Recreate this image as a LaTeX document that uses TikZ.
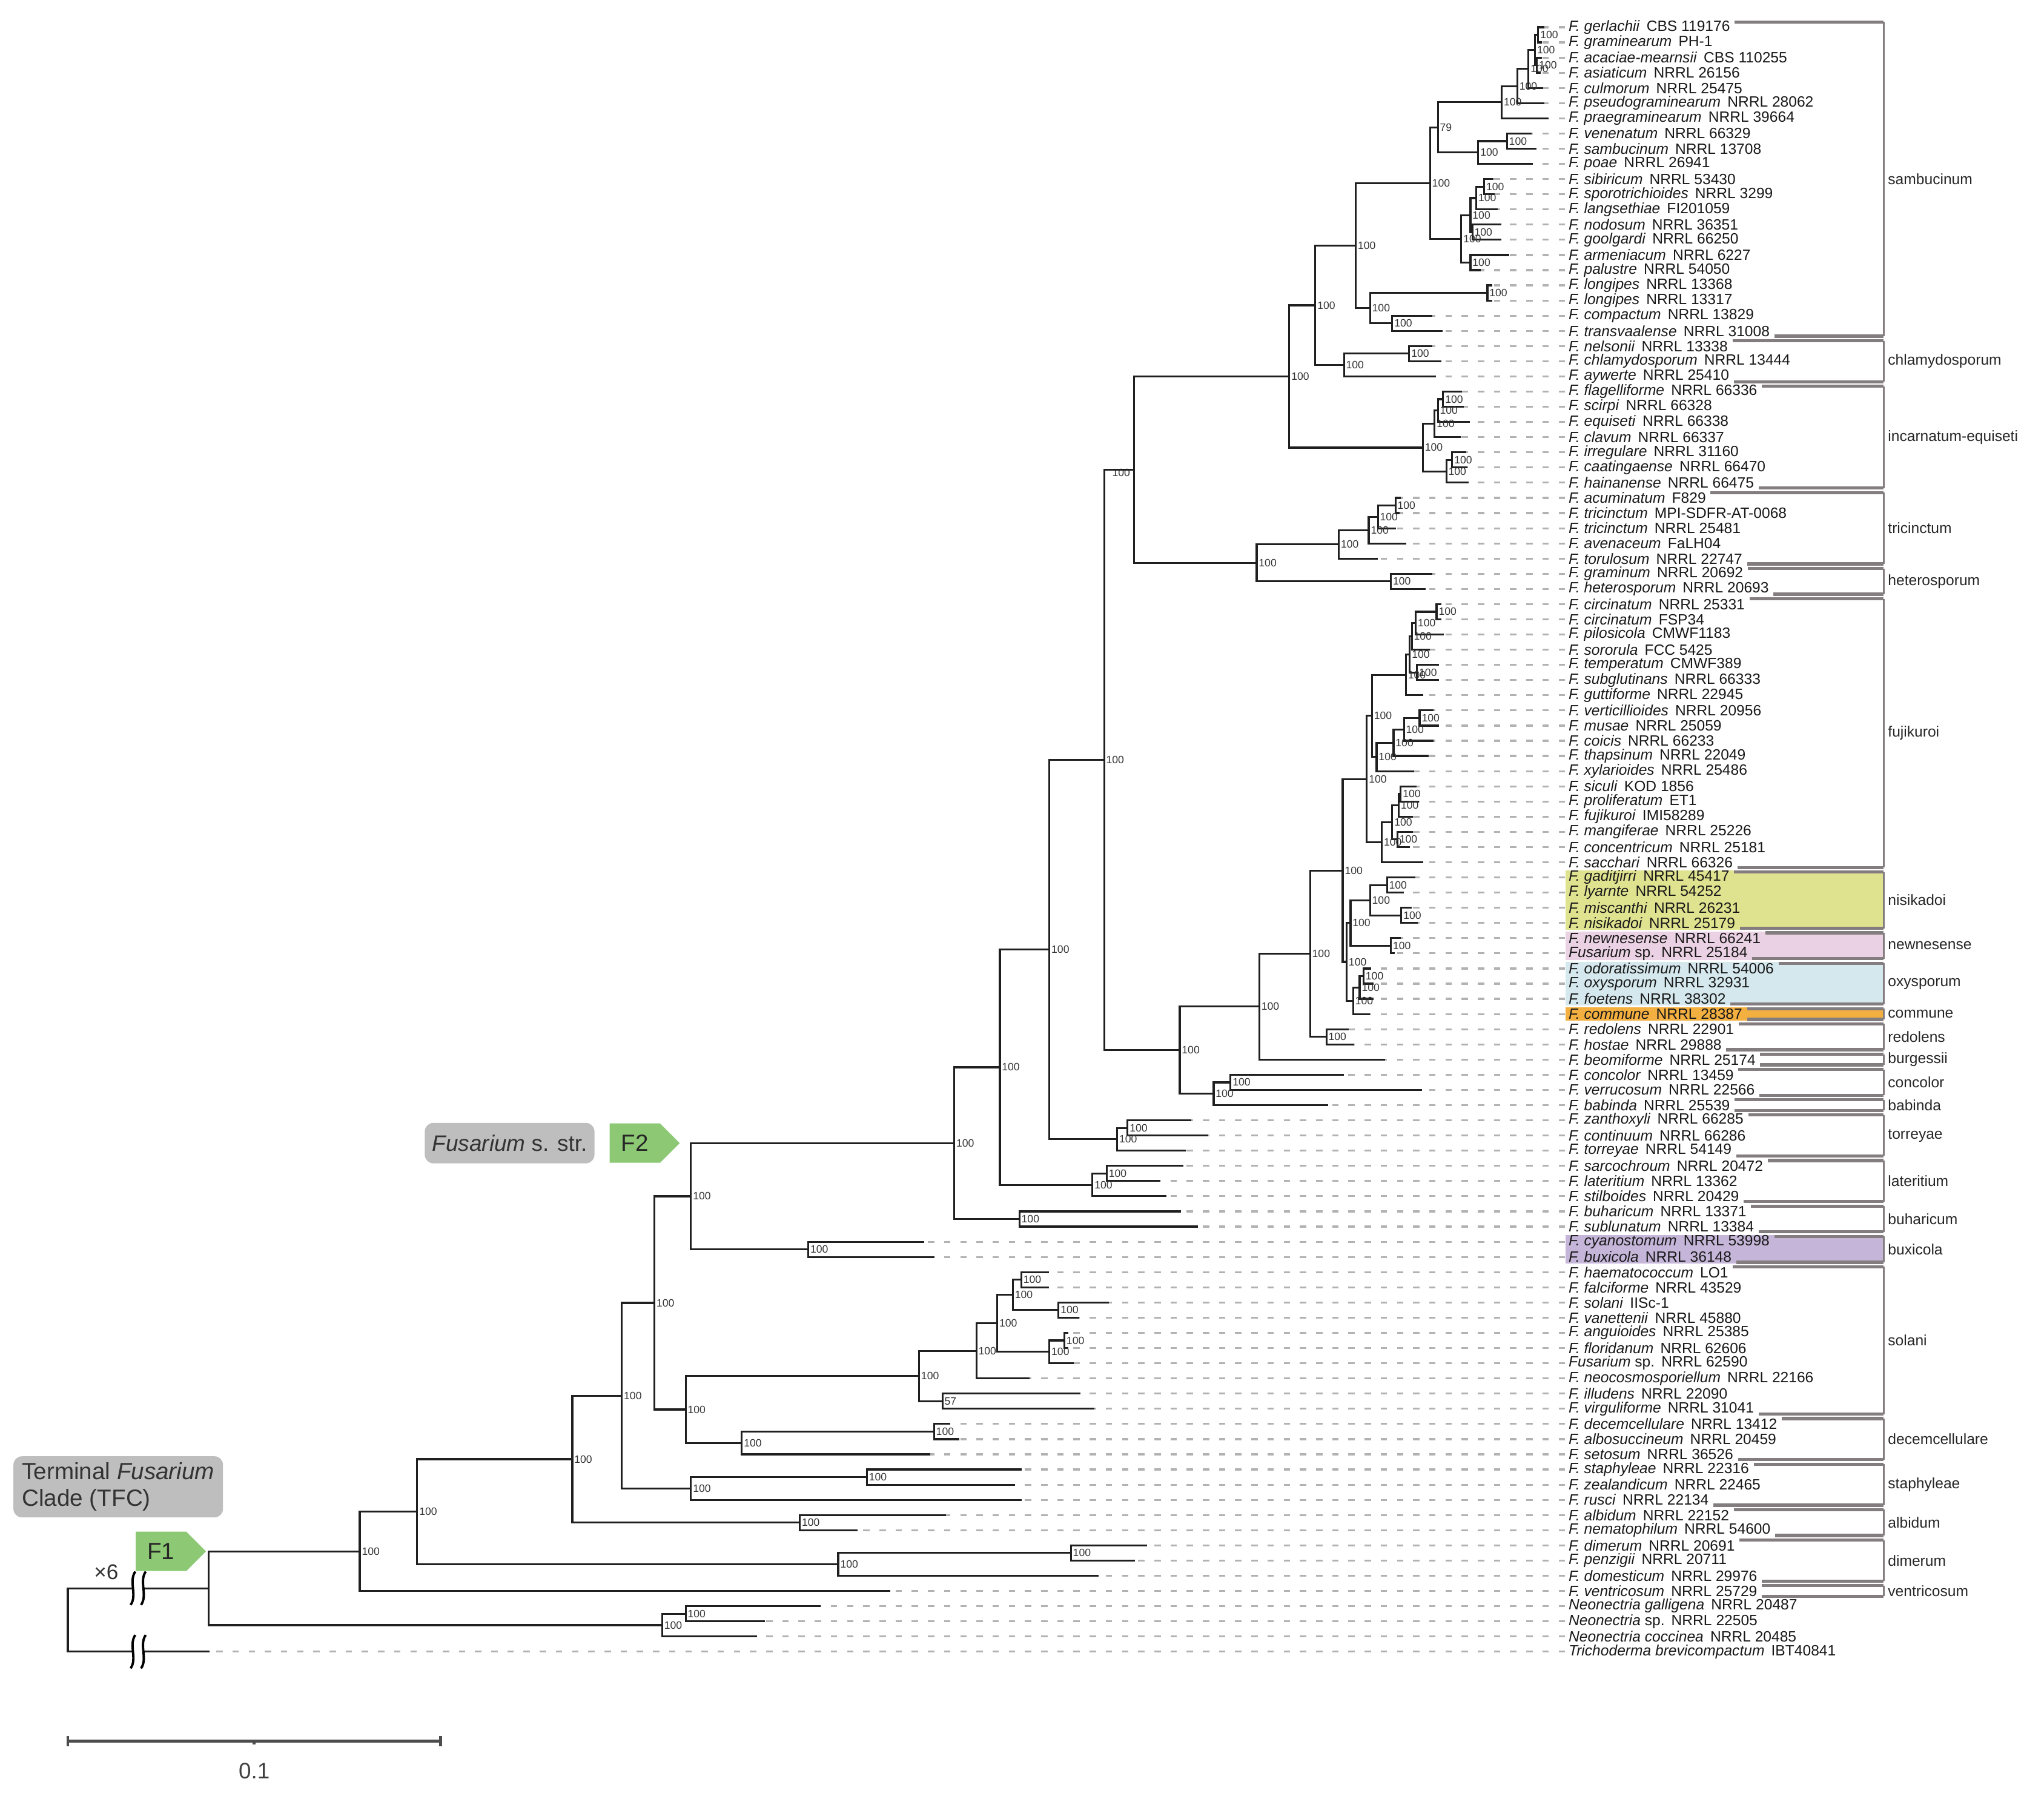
\documentclass[tikz,border=0pt]{standalone}
\usepackage{fontspec}
\setmainfont{Liberation Sans}
\usetikzlibrary{shapes,positioning}

\definecolor{bargray}{RGB}{132,125,127}
\definecolor{boxgray}{RGB}{190,190,190}
\definecolor{flaggreen}{RGB}{141,201,116}
\definecolor{hlyellow}{RGB}{223,226,142}
\definecolor{hlpink}{RGB}{234,209,227}
\definecolor{hlblue}{RGB}{213,232,238}
\definecolor{hlorange}{RGB}{243,175,64}
\definecolor{hlpurple}{RGB}{197,182,217}

% one split: [label opts] name, x, upper child, lower child, support
\newcommand\clade[6][]{%
  \path (#4) -- (#5) coordinate[pos=.5] (#2m);
  \coordinate (#2) at (#3,0 |- #2m);
  \draw[branch] (#4) -| (#2) |- (#5);
  \node[boot,#1] (#2b) at (#2) {#6};
}

% bracket round a group: first row, last row, group name
\newcommand\cladebar[3]{%
  \coordinate (cbT) at (1445,{#1-0.35});
  \coordinate (cbB) at (1445,{#2+0.35});
  \coordinate (cbA) at ([xshift=2pt]L#1.east);
  \coordinate (cbZ) at ([xshift=2pt]L#2.east);
  \draw[cvert] (cbT) -- (cbB);
  \draw[cbar] (cbA |- cbT) -- (cbT) (cbZ |- cbB) -- (cbB);
  \node[cname] (g#1) at (1448,{(#1+#2)/2}) {#3};
}

% broken branch
\newcommand\brk[1]{%
  \begin{scope}[shift={(102,0 |- #1)}]
    \fill[white] (-0.5,-0.5) rectangle (8,0.5);
    \draw[brkline] (1.8,-1.1) .. controls (-3.5,-0.45) and (3.5,0.45) .. (-1.8,1.1);
    \draw[brkline] (9.8,-1.1) .. controls (4.5,-0.45) and (11.5,0.45) .. (6.2,1.1);
  \end{scope}}

\begin{document}
\begin{tikzpicture}[x=0.021524cm, y=-0.2507cm,
  branch/.style={line width=0.9pt, draw=black!88, line cap=rect},
  lead/.style={draw=black!30, line width=0.9pt, dash pattern=on 3pt off 4.6pt},
  boot/.style={anchor=west, inner sep=0pt, xshift=0.8pt, text=black!80, font=\fontsize{5}{5}\selectfont},
  taxon/.style={anchor=west, inner sep=0pt, text=black!90, font=\fontsize{7}{7}\selectfont},
  cbar/.style={draw=bargray, line width=1.5pt},
  cvert/.style={draw=bargray, line width=1pt},
  cname/.style={anchor=west, inner sep=0pt, text=black!85, font=\fontsize{7}{7}\selectfont},
  tag/.style={signal, signal to=east, fill=flaggreen, minimum width=33pt, minimum height=18.5pt, inner sep=0pt, text=black!85, font=\fontsize{11}{11}\selectfont},
  gbox/.style={fill=boxgray, rounded corners=4pt, text=black!80},
  brkline/.style={line width=1.1pt, draw=black},
  sbar/.style={draw=black!70, line width=1.3pt}]

\useasboundingbox (0,-0.795) rectangle (1568,117.87);

% colored groups
\fill[hlyellow] (1201,{57-0.45}) rectangle (1445,{60+0.45});
\fill[hlpink] (1201,{61-0.45}) rectangle (1445,{62+0.45});
\fill[hlblue] (1201,{63-0.45}) rectangle (1445,{65+0.45});
\fill[hlorange] (1201,{66-0.45}) rectangle (1445,{66+0.45});
\fill[hlpurple] (1201,{81-0.45}) rectangle (1445,{82+0.45});

% taxa
\foreach \i/\nm/\st in {1/F. gerlachii/CBS 119176, 2/F. graminearum/PH-1,
  3/F. acaciae-mearnsii/CBS 110255, 4/F. asiaticum/NRRL 26156, 5/F. culmorum/NRRL 25475,
  6/F. pseudograminearum/NRRL 28062, 7/F. praegraminearum/NRRL 39664, 8/F. venenatum/NRRL 66329,
  9/F. sambucinum/NRRL 13708, 10/F. poae/NRRL 26941, 11/F. sibiricum/NRRL 53430,
  12/F. sporotrichioides/NRRL 3299, 13/F. langsethiae/FI201059, 14/F. nodosum/NRRL 36351,
  15/F. goolgardi/NRRL 66250, 16/F. armeniacum/NRRL 6227, 17/F. palustre/NRRL 54050,
  18/F. longipes/NRRL 13368, 19/F. longipes/NRRL 13317, 20/F. compactum/NRRL 13829,
  21/F. transvaalense/NRRL 31008, 22/F. nelsonii/NRRL 13338, 23/F. chlamydosporum/NRRL 13444,
  24/F. aywerte/NRRL 25410, 25/F. flagelliforme/NRRL 66336, 26/F. scirpi/NRRL 66328,
  27/F. equiseti/NRRL 66338, 28/F. clavum/NRRL 66337, 29/F. irregulare/NRRL 31160,
  30/F. caatingaense/NRRL 66470, 31/F. hainanense/NRRL 66475, 32/F. acuminatum/F829,
  33/F. tricinctum/MPI-SDFR-AT-0068, 34/F. tricinctum/NRRL 25481, 35/F. avenaceum/FaLH04,
  36/F. torulosum/NRRL 22747, 37/F. graminum/NRRL 20692, 38/F. heterosporum/NRRL 20693,
  39/F. circinatum/NRRL 25331, 40/F. circinatum/FSP34, 41/F. pilosicola/CMWF1183,
  42/F. sororula/FCC 5425, 43/F. temperatum/CMWF389, 44/F. subglutinans/NRRL 66333,
  45/F. guttiforme/NRRL 22945, 46/F. verticillioides/NRRL 20956, 47/F. musae/NRRL 25059,
  48/F. coicis/NRRL 66233, 49/F. thapsinum/NRRL 22049, 50/F. xylarioides/NRRL 25486,
  51/F. siculi/KOD 1856, 52/F. proliferatum/ET1, 53/F. fujikuroi/IMI58289,
  54/F. mangiferae/NRRL 25226, 55/F. concentricum/NRRL 25181, 56/F. sacchari/NRRL 66326,
  57/F. gaditjirri/NRRL 45417, 58/F. lyarnte/NRRL 54252, 59/F. miscanthi/NRRL 26231,
  60/F. nisikadoi/NRRL 25179, 61/F. newnesense/NRRL 66241, 62/Fusarium \upshape sp./NRRL 25184,
  63/F. odoratissimum/NRRL 54006, 64/F. oxysporum/NRRL 32931, 65/F. foetens/NRRL 38302,
  66/F. commune/NRRL 28387, 67/F. redolens/NRRL 22901, 68/F. hostae/NRRL 29888,
  69/F. beomiforme/NRRL 25174, 70/F. concolor/NRRL 13459, 71/F. verrucosum/NRRL 22566,
  72/F. babinda/NRRL 25539, 73/F. zanthoxyli/NRRL 66285, 74/F. continuum/NRRL 66286,
  75/F. torreyae/NRRL 54149, 76/F. sarcochroum/NRRL 20472, 77/F. lateritium/NRRL 13362,
  78/F. stilboides/NRRL 20429, 79/F. buharicum/NRRL 13371, 80/F. sublunatum/NRRL 13384,
  81/F. cyanostomum/NRRL 53998, 82/F. buxicola/NRRL 36148, 83/F. haematococcum/LO1,
  84/F. falciforme/NRRL 43529, 85/F. solani/IISc-1, 86/F. vanettenii/NRRL 45880,
  87/F. anguioides/NRRL 25385, 88/F. floridanum/NRRL 62606, 89/Fusarium \upshape sp./NRRL 62590,
  90/F. neocosmosporiellum/NRRL 22166, 91/F. illudens/NRRL 22090, 92/F. virguliforme/NRRL 31041,
  93/F. decemcellulare/NRRL 13412, 94/F. albosuccineum/NRRL 20459, 95/F. setosum/NRRL 36526,
  96/F. staphyleae/NRRL 22316, 97/F. zealandicum/NRRL 22465, 98/F. rusci/NRRL 22134,
  99/F. albidum/NRRL 22152, 100/F. nematophilum/NRRL 54600, 101/F. dimerum/NRRL 20691,
  102/F. penzigii/NRRL 20711, 103/F. domesticum/NRRL 29976, 104/F. ventricosum/NRRL 25729,
  105/Neonectria galligena/NRRL 20487, 106/Neonectria \upshape sp./NRRL 22505,
  107/Neonectria coccinea/NRRL 20485, 108/Trichoderma brevicompactum/IBT40841}
  \node[taxon] (L\i) at (1203,\i) {\textit{\nm}\hspace{0.45em}\st};

% branch tips
\foreach \i/\x in {1/1184, 2/1182, 3/1182, 4/1181, 5/1183, 6/1184, 7/1187, 8/1174, 9/1178,
  10/1175, 11/1145, 12/1146, 13/1148, 14/1151, 15/1151, 16/1157, 17/1135, 18/1144, 19/1144,
  20/1098, 21/1106, 22/1098, 23/1105, 24/1101, 25/1121, 26/1122, 27/1127, 28/1120, 29/1124,
  30/1125, 31/1126, 32/1074, 33/1073, 34/1070, 35/1078, 36/1056, 37/1098, 38/1093, 39/1105,
  40/1105, 41/1107, 42/1096, 43/1103, 44/1103, 45/1091, 46/1099, 47/1103, 48/1099, 49/1095,
  50/1084, 51/1086, 52/1088, 53/1083, 54/1083, 55/1081, 56/1091, 57/1085, 58/1076, 59/1082,
  60/1087, 61/1074, 62/1069, 63/1051, 64/1053, 65/1053, 66/1050, 67/1034, 68/1038, 69/1062,
  70/1030, 71/1090, 72/1018, 73/913, 74/926, 75/909, 76/907, 77/889, 78/894, 79/905,
  80/918, 81/708, 82/716, 83/804, 84/804, 85/850, 86/827, 87/819, 88/819, 89/823,
  90/789, 91/828, 92/839, 93/728, 94/735, 95/713, 96/783, 97/778, 98/783, 99/725,
  100/657, 101/879, 102/870, 103/842, 104/682, 105/629, 106/586, 107/580, 108/160}
  \coordinate (t\i) at (\x,\i);

% leaders
\foreach \i in {1,...,108}
  \draw[lead] ([xshift=-1.5pt]L\i.west) -- (t\i);

% sambucinum, chlamydosporum
\clade{gerl}{1180}{t1}{t2}{100}
\clade{acac}{1179}{t3}{t4}{100}
\clade{graA}{1177.5}{gerl}{acac}{100}
\clade{graB}{1172.5}{graA}{t5}{100}
\clade{graC}{1164}{graB}{t6}{100}
\clade{graD}{1152}{graC}{t7}{100}
\clade{vene}{1156}{t8}{t9}{100}
\clade{poae}{1134}{vene}{t10}{100}
\clade{samA}{1103}{graD}{poae}{79}
\clade{sibi}{1138.5}{t11}{t12}{100}
\clade{lang}{1132.5}{sibi}{t13}{100}
\clade{nodo}{1129.5}{t14}{t15}{100}
\clade{sporo}{1128}{lang}{nodo}{100}
\clade{arme}{1128}{t16}{t17}{100}
\clade{samB}{1121}{sporo}{arme}{100}
\clade{samC}{1097}{samA}{samB}{100}
\clade{long}{1141}{t18}{t19}{100}
\clade{comp}{1068}{t20}{t21}{100}
\clade{samD}{1051}{long}{comp}{100}
\clade{samb}{1040}{samC}{samD}{100}
\clade{nels}{1081}{t22}{t23}{100}
\clade{chla}{1031}{nels}{t24}{100}
\clade{samch}{1009}{samb}{chla}{100}
% incarnatum-equiseti
\clade{flge}{1107}{t25}{t26}{100}
\clade{equi}{1103}{flge}{t27}{100}
\clade{clav}{1100.5}{equi}{t28}{100}
\clade{irre}{1114}{t29}{t30}{100}
\clade{hain}{1109.5}{irre}{t31}{100}
\clade{ince}{1091.5}{clav}{hain}{100}
\clade{sci}{989}{samch}{ince}{100}
% tricinctum, heterosporum
\clade{acum}{1070.5}{t32}{t33}{100}
\clade{tric}{1057}{acum}{t34}{100}
\clade{aven}{1050}{tric}{t35}{100}
\clade{tori}{1027}{aven}{t36}{100}
\clade{hete}{1067}{t37}{t38}{100}
\clade{trhe}{964}{tori}{hete}{100}
\clade[anchor=east,xshift=-2.5pt,yshift=-1.5pt]{gpA}{870}{sci}{trhe}{100}
% fujikuroi
\clade{circ}{1102}{t39}{t40}{100}
\clade{pilo}{1086}{circ}{t41}{100}
\clade{soro}{1083}{pilo}{t42}{100}
\clade{temp}{1087}{t43}{t44}{100}
\clade{subg}{1081.5}{soro}{temp}{100}
\clade{amer}{1078.5}{subg}{t45}{100}
\clade{vert}{1089}{t46}{t47}{100}
\clade{coic}{1077}{vert}{t48}{100}
\clade{thap}{1069}{coic}{t49}{100}
\clade{afri}{1056}{thap}{t50}{100}
\clade{amaf}{1052.5}{amer}{afri}{100}
\clade{sicu}{1074.5}{t51}{t52}{100}
\clade{fuji}{1073}{sicu}{t53}{100}
\clade{mang}{1072}{t54}{t55}{100}
\clade{asia}{1068}{fuji}{mang}{100}
\clade{sacc}{1060}{asia}{t56}{100}
\clade{fujk}{1048.5}{amaf}{sacc}{100}
% nisikadoi, newnesense, oxysporum, commune
\clade{gadi}{1064}{t57}{t58}{100}
\clade{misc}{1075}{t59}{t60}{100}
\clade{nisi}{1051}{gadi}{misc}{100}
\clade{newn}{1067}{t61}{t62}{100}
\clade{nine}{1036}{nisi}{newn}{100}
\clade{odor}{1046}{t63}{t64}{100}
\clade{oxys}{1043}{odor}{t65}{100}
\clade{comm}{1038}{oxys}{t66}{100}
\clade{fnoc}{1033}{nine}{comm}{100}
\clade{fuox}{1030}{fujk}{fnoc}{100}
% redolens to buxicola
\clade{redo}{1017.5}{t67}{t68}{100}
\clade{fure}{1005}{fuox}{redo}{100}
\clade{fubu}{966}{fure}{t69}{100}
\clade{conc}{944}{t70}{t71}{100}
\clade{babi}{931}{conc}{t72}{100}
\clade{fuba}{905}{fubu}{babi}{100}
\clade{gpB}{847}{gpA}{fuba}{100}
\clade{zant}{865}{t73}{t74}{100}
\clade{torr}{857}{zant}{t75}{100}
\clade{gpC}{805}{gpB}{torr}{100}
\clade{sarc}{849}{t76}{t77}{100}
\clade{late}{838}{sarc}{t78}{100}
\clade{gpD}{767}{gpC}{late}{100}
\clade{buha}{782}{t79}{t80}{100}
\clade{gpE}{732}{gpD}{buha}{100}
\clade{buxi}{620}{t81}{t82}{100}
\clade{Ftwo}{530}{gpE}{buxi}{100}
% solani to ventricosum
\clade{haem}{783.5}{t83}{t84}{100}
\clade{sola}{812}{t85}{t86}{100}
\clade{falc}{777}{haem}{sola}{100}
\clade{angu}{816.5}{t87}{t88}{100}
\clade{flor}{805}{angu}{t89}{100}
\clade{solA}{765}{falc}{flor}{100}
\clade{solB}{749}{solA}{t90}{100}
\clade{illu}{723}{t91}{t92}{57}
\clade{solC}{705}{solB}{illu}{100}
\clade{deca}{716.5}{t93}{t94}{100}
\clade{deco}{569}{deca}{t95}{100}
\clade{sode}{526}{solC}{deco}{100}
\clade{tfcA}{502}{Ftwo}{sode}{100}
\clade{stap}{665}{t96}{t97}{100}
\clade{rusc}{530}{stap}{t98}{100}
\clade{tfcB}{477}{tfcA}{rusc}{100}
\clade{albi}{613.5}{t99}{t100}{100}
\clade{tfcC}{439}{tfcB}{albi}{100}
\clade{dime}{821.5}{t101}{t102}{100}
\clade{dome}{643}{dime}{t103}{100}
\clade{tfcD}{320}{tfcC}{dome}{100}
\clade{tfcE}{276}{tfcD}{t104}{100}
% outgroups
\clade{gall}{526}{t105}{t106}{100}
\clade{neon}{508}{gall}{t107}{100}
\clade{Fone}{160}{tfcE}{neon}{}
\clade{root}{52}{Fone}{t108}{}

\brk{Fone}
\brk{t108}

% group brackets
\cladebar{1}{21}{sambucinum}
\cladebar{22}{24}{chlamydosporum}
\cladebar{25}{31}{incarnatum-equiseti}
\cladebar{32}{36}{tricinctum}
\cladebar{37}{38}{heterosporum}
\cladebar{39}{56}{fujikuroi}
\cladebar{57}{60}{nisikadoi}
\cladebar{61}{62}{newnesense}
\cladebar{63}{65}{oxysporum}
\cladebar{66}{66}{commune}
\cladebar{67}{68}{redolens}
\cladebar{69}{69}{burgessii}
\cladebar{70}{71}{concolor}
\cladebar{72}{72}{babinda}
\cladebar{73}{75}{torreyae}
\cladebar{76}{78}{lateritium}
\cladebar{79}{80}{buharicum}
\cladebar{81}{82}{buxicola}
\cladebar{83}{92}{solani}
\cladebar{93}{95}{decemcellulare}
\cladebar{96}{98}{staphyleae}
\cladebar{99}{100}{albidum}
\cladebar{101}{103}{dimerum}
\cladebar{104}{104}{ventricosum}

% flags and boxes
\node[tag] (tagF2) at (487,0 |- gpE) {F2};
\node[gbox, left=6.7pt of tagF2, minimum height=19pt, inner xsep=3.5pt, font=\fontsize{10.5}{10.5}\selectfont] (sstr) {\textit{Fusarium} s. str.};
\node[tag] (tagF1) at (123.5,0 |- tfcE) {F1};
\node[gbox, anchor=north west, align=left, inner xsep=4pt, inner ysep=3pt, font=\fontsize{11}{12.5}\selectfont] (tfc) at (10,95.1) {Terminal \textit{Fusarium}\\Clade (TFC)};
\node[text=black!80, font=\fontsize{10}{10}\selectfont] (xsix) at (81.5,102.75) {×6};

% scale bar
\draw[sbar] (52,113.9) -- (338,113.9);
\draw[sbar] (52,113.55) -- (52,114.25) (338,113.55) -- (338,114.25) (195,113.9) -- (195,114.1);
\node[text=black!75, font=\fontsize{10.5}{10.5}\selectfont] (sbl) at (195,115.85) {0.1};

\end{tikzpicture}
\end{document}
